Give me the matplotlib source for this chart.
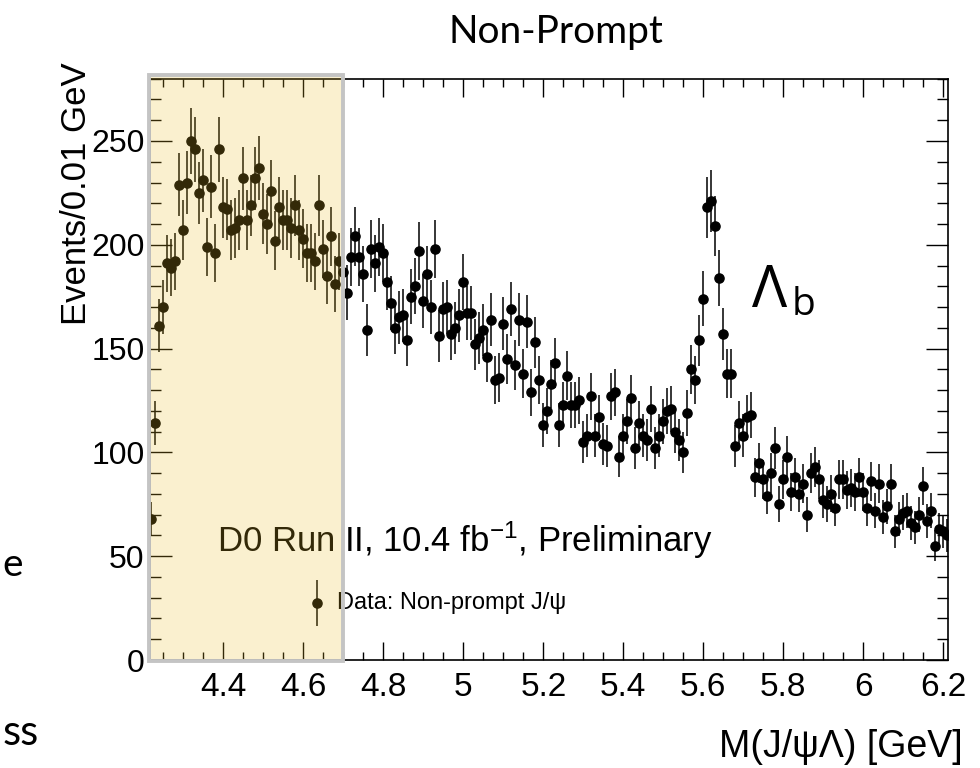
import numpy as np
import matplotlib.pyplot as plt
from matplotlib.patches import Rectangle
from matplotlib.ticker import MultipleLocator, FuncFormatter

# M(J/psi Lambda) spectrum, 0.01 GeV bins, bin centres 4.22 ... 6.21
mass_lo = 4.22
bin_width = 0.01
events = [
    68, 114, 161, 170, 191, 189, 192, 229, 207, 230,      # 4.22 - 4.31
    250, 246, 225, 231, 199, 228, 196, 246, 218, 217,     # 4.32 - 4.41
    207, 208, 212, 232, 212, 219, 232, 237, 215, 210,     # 4.42 - 4.51
    226, 202, 218, 212, 212, 208, 219, 207, 203, 196,     # 4.52 - 4.61
    196, 192, 219, 198, 185, 204, 181, 192, 187, 177,     # 4.62 - 4.71
    194, 204, 194, 186, 159, 198, 191, 199, 196, 182,     # 4.72 - 4.81
    172, 160, 165, 166, 154, 175, 180, 197, 173, 186,     # 4.82 - 4.91
    170, 198, 156, 169, 170, 157, 160, 166, 182, 167,     # 4.92 - 5.01
    167, 152, 155, 159, 146, 164, 135, 136, 162, 145,     # 5.02 - 5.11
    169, 142, 164, 138, 163, 129, 153, 135, 113, 120,     # 5.12 - 5.21
    133, 143, 113, 123, 137, 123, 123, 125, 105, 108,     # 5.22 - 5.31
    127, 108, 117, 104, 103, 127, 129, 98, 108, 115,      # 5.32 - 5.41
    126, 102, 114, 108, 106, 121, 102, 108, 115, 120,     # 5.42 - 5.51
    121, 110, 106, 100, 119, 140, 135, 154, 174, 218,     # 5.52 - 5.61
    221, 209, 184, 157, 138, 138, 103, 114, 108, 117,     # 5.62 - 5.71
    118, 88, 95, 87, 79, 90, 102, 75, 87, 98,             # 5.72 - 5.81
    81, 88, 80, 85, 70, 90, 93, 87, 77, 75,               # 5.82 - 5.91
    80, 73, 87, 87, 82, 83, 81, 88, 81, 73,               # 5.92 - 6.01
    86, 72, 85, 69, 74, 85, 62, 68, 71, 72,               # 6.02 - 6.11
    66, 64, 70, 84, 67, 72, 55, 63, 62, 60,               # 6.12 - 6.21
]
x_ticks = [4.4, 4.6, 4.8, 5.0, 5.2, 5.4, 5.6, 5.8, 6.0, 6.2]
y_ticks = [0, 50, 100, 150, 200, 250]

mass = mass_lo + bin_width * np.arange(len(events))
counts = np.array(events, dtype=float)
errors = np.sqrt(counts)

SANS = ['Liberation Sans', 'DejaVu Sans']
SLIDE = ['Lato', 'Open Sans', 'DejaVu Sans']
plt.rcParams['mathtext.default'] = 'regular'

fig = plt.figure(figsize=(9.8, 7.68), dpi=100)
ax = fig.add_axes([150 / 980, 1 - 660 / 768, 798 / 980, 581.3 / 768])

ax.errorbar(mass, counts, yerr=errors, fmt='o', color='black', ms=6.6,
            elinewidth=1.1, capsize=0, zorder=3)

ax.set_xlim(4.2168, 6.2117)
ax.set_ylim(0, 280)
ax.set_xticks(x_ticks)
ax.set_yticks(y_ticks)
ax.xaxis.set_minor_locator(MultipleLocator(0.05))
ax.yaxis.set_minor_locator(MultipleLocator(10))
ax.xaxis.set_major_formatter(FuncFormatter(lambda v, p: f'{v:g}'))
for side in ax.spines.values():
    side.set_linewidth(1.2)
ax.tick_params(which='both', direction='in', top=True, right=True, width=1.0)
ax.tick_params(axis='x', which='major', length=13, pad=9)
ax.tick_params(axis='x', which='minor', length=6)
ax.tick_params(axis='y', which='major', length=16, pad=4)
ax.tick_params(axis='y', which='minor', length=8)
for lab in ax.get_xticklabels():
    lab.set_family(SANS)
    lab.set_fontsize(24)
for lab in ax.get_yticklabels():
    lab.set_family(SANS)
    lab.set_fontsize(23)

# axis titles
fig.text(76 / 980, 1 - 62 / 768, 'Events/0.01 GeV', rotation=90,
         ha='center', va='top', fontsize=25, family=SANS)
fig.text(963 / 980, 1 - 747 / 768, 'M(J/ψΛ) [GeV]', ha='right', va='center',
         fontsize=27, family=SANS)

# experiment label and legend entry
ax.text(4.384, 52, 'D0 Run II, 10.4 fb$^{-1}$, Preliminary', fontsize=25,
        family=SANS, va='baseline', ha='left')
ax.errorbar([4.634], [27.5], yerr=[11], fmt='o', color='black', ms=6.6,
            elinewidth=1.1, capsize=0, clip_on=False)
ax.text(4.684, 27.5, 'Data: Non-prompt J/ψ', fontsize=17, family=SANS,
        va='center', ha='left')

# peak label
ax.text(5.722, 170, 'Λ', fontsize=42, family=['Open Sans', 'DejaVu Sans'],
        va='baseline', ha='left')
ax.text(5.822, 166, 'b', fontsize=28, family=['Open Sans', 'DejaVu Sans'],
        va='baseline', ha='left')

# slide title and clipped slide text at the left edge
fig.text(556 / 980, 1 - 32 / 768, 'Non-Prompt', ha='center', va='center',
         fontsize=28, family=SLIDE)
fig.text(2 / 980, 1 - 576 / 768, 'e', ha='left', va='baseline',
         fontsize=28, family=SLIDE)
fig.text(3 / 980, 1 - 745 / 768, 'ss', ha='left', va='baseline',
         fontsize=30, family=SLIDE)

# highlighted low-mass window
x0, x1, y0, y1 = 148.5 / 980, 342.5 / 980, 1 - 661 / 768, 1 - 75 / 768
fig.add_artist(Rectangle((x0, y0), x1 - x0, y1 - y0, transform=fig.transFigure,
                         facecolor=(235 / 255, 190 / 255, 40 / 255), alpha=0.22,
                         edgecolor='none', zorder=5))
fig.add_artist(Rectangle((x0, y0), x1 - x0, y1 - y0, transform=fig.transFigure,
                         facecolor='none', edgecolor='#c4c4c4', linewidth=2.8,
                         zorder=6))

fig.savefig('out.png', dpi=100)
